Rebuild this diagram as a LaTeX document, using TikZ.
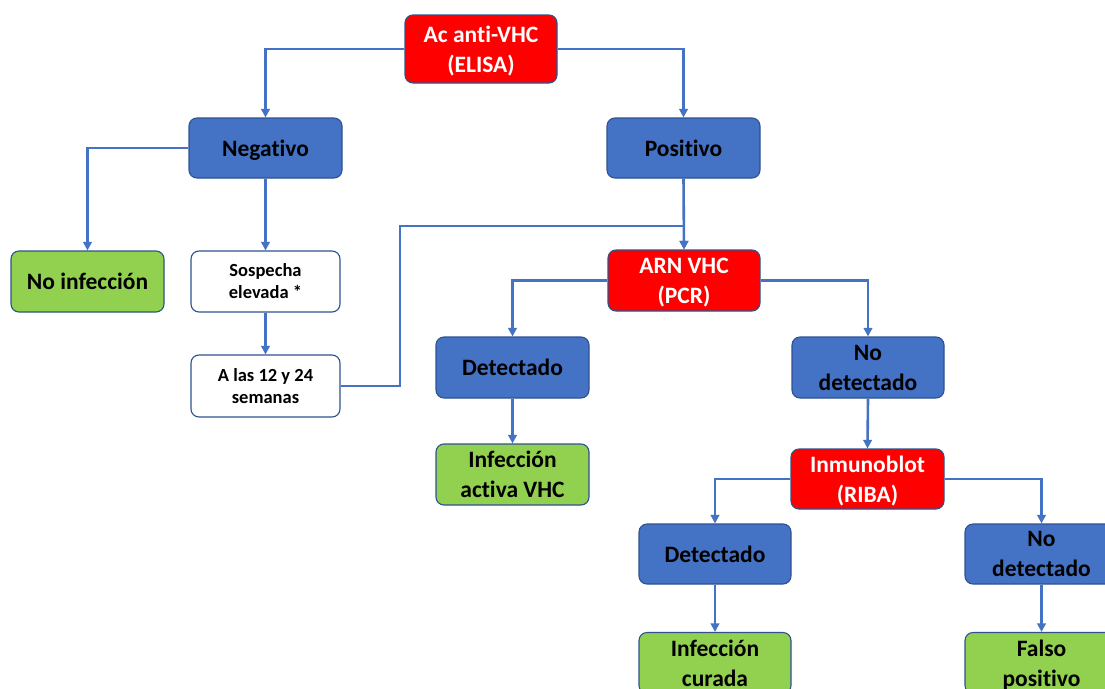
\documentclass[tikz,border=0pt]{standalone}
\usepackage{fontspec}
\setmainfont{Carlito}[Ligatures=NoCommon]
\usetikzlibrary{arrows.meta}
\definecolor{boxred}{HTML}{FF0000}
\definecolor{boxblue}{HTML}{4472C4}
\definecolor{boxgreen}{HTML}{92D050}
\definecolor{bordblue}{HTML}{2F528F}
\definecolor{linkblue}{HTML}{4472C4}
\begin{document}
\begin{tikzpicture}[x=1pt,y=-1pt,
 box/.style={draw=bordblue, line width=1.1pt, rounded corners=8pt, align=center,
   font=\fontsize{23.5}{30}\selectfont\bfseries, inner sep=0pt, text depth=0pt},
 redbox/.style={box, fill=boxred, text=white},
 bluebox/.style={box, fill=boxblue, text=black},
 greenbox/.style={box, fill=boxgreen, text=black},
 whitebox/.style={box, fill=white, text=black, font=\fontsize{18.5}{22}\selectfont\bfseries},
 conn/.style={draw=linkblue, line width=2.6pt},
 arr/.style={conn, -{Triangle[length=8.5pt,width=8.5pt]}}]
\clip (0,0) rectangle (1105,688);
\fill[white] (0,0) rectangle (1105,688);

\node[redbox, minimum width=152pt, minimum height=68pt] (elisa) at (481,49) {Ac anti-VHC\\(ELISA)};
\node[bluebox, minimum width=153pt, minimum height=60pt] (neg) at (265.5,148) {Negativo};
\node[bluebox, minimum width=153pt, minimum height=60pt] (pos) at (683.5,148) {Positivo};
\node[greenbox, minimum width=153pt, minimum height=61pt] (noinf) at (87.5,281.5) {No infección};
\node[whitebox, minimum width=149pt, minimum height=61pt] (sosp) at (265.5,281.5) {Sospecha\\elevada *};
\node[whitebox, minimum width=149pt, minimum height=62pt] (alas) at (265.5,386) {A las 12 y 24\\semanas};
\node[redbox, minimum width=152pt, minimum height=61pt] (arn) at (684,280.5) {ARN VHC\\(PCR)};
\node[bluebox, minimum width=153pt, minimum height=61pt] (det1) at (512.5,367.5) {Detectado};
\node[bluebox, minimum width=152pt, minimum height=61pt] (nodet1) at (868,367.5) {No\\detectado};
\node[greenbox, minimum width=153pt, minimum height=61pt] (infact) at (512.5,474.5) {Infección\\activa VHC};
\node[redbox, minimum width=153pt, minimum height=60pt] (inmuno) at (867.5,479) {Inmunoblot\\(RIBA)};
\node[bluebox, minimum width=152pt, minimum height=60pt] (det2) at (715,554) {Detectado};
\node[bluebox, minimum width=153pt, minimum height=60pt] (nodet2) at (1041.5,554) {No\\detectado};
\node[greenbox, minimum width=152pt, minimum height=61pt] (infcur) at (715,663) {Infección\\curada};
\node[greenbox, minimum width=153pt, minimum height=61pt] (falso) at (1041.5,663) {Falso\\positivo};

\coordinate (bend) at (400,226);

\draw[arr] (elisa.west) -| (neg.north);
\draw[arr] (elisa.east) -| (pos.north);
\draw[arr] (neg.west) -| (noinf.north);
\draw[arr] (neg.south) -- (sosp.north);
\draw[arr] (sosp.south) -- (alas.north);
\draw[arr] (alas.east) -| (bend) -| (arn.north);
\draw[arr] (pos.south) -- (arn.north);
\draw[arr] (arn.west) -| (det1.north);
\draw[arr] (arn.east) -| (nodet1.north);
\draw[arr] (det1.south) -- (infact.north);
\draw[arr] (nodet1.south) -- (inmuno.north);
\draw[arr] (inmuno.west) -| (det2.north);
\draw[arr] (inmuno.east) -| (nodet2.north);
\draw[arr] (det2.south) -- (infcur.north);
\draw[arr] (nodet2.south) -- (falso.north);
\end{tikzpicture}
\end{document}
